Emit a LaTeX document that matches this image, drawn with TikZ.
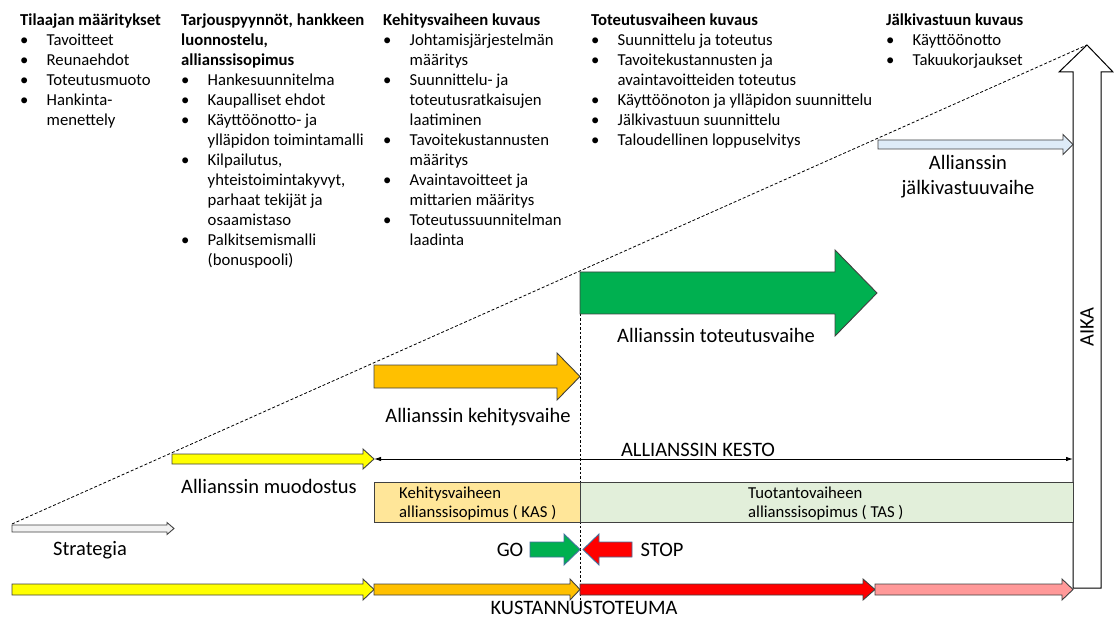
\documentclass[tikz,border=0pt]{standalone}
\usepackage{fontspec}
\setmainfont{Carlito}
\usetikzlibrary{arrows.meta}
\definecolor{cyellow}{HTML}{FFFF00}
\definecolor{corange}{HTML}{FFC000}
\definecolor{cgreen}{HTML}{00B050}
\definecolor{cred}{HTML}{FF0000}
\definecolor{cpink}{HTML}{FF9999}
\definecolor{cblue}{HTML}{DEEBF7}
\definecolor{cgray}{HTML}{F2F2F2}
\definecolor{ckas}{HTML}{FFE699}
\definecolor{ctas}{HTML}{E2EFDA}
\definecolor{cline}{HTML}{404040}
\definecolor{coutl}{HTML}{41719C}
\newcommand\blkarrow[7]{\draw[line width=0.9pt,#7] (#1,{#3-#4}) -- ({#2-(#6)},{#3-#4}) -- ({#2-(#6)},{#3-#5}) -- (#2,#3) -- ({#2-(#6)},{#3+#5}) -- ({#2-(#6)},{#3+#4}) -- (#1,{#3+#4}) -- cycle;}
\newcommand\bul{\makebox[26.5pt][l]{\textbullet}}
\tikzset{
  col/.style={anchor=north west, inner sep=0pt, font=\fontsize{16.7}{20}\selectfont},
  lab/.style={anchor=base, inner sep=0pt, font=\fontsize{20.5}{25}\selectfont},
  boxtxt/.style={anchor=north west, inner sep=0pt, font=\fontsize{16.7}{19.5}\selectfont},
  cbox/.style={draw=cline, line width=0.9pt, anchor=north west, inner sep=0pt, minimum height=40pt},
}
\begin{document}
\begin{tikzpicture}[x=1pt,y=-1pt]
\useasboundingbox (0,0) rectangle (1114,620);
% text columns
\node[col] (c1) at (20,11) {\begin{tabular}{@{}l@{}l@{}}
\multicolumn{2}{@{}l@{}}{\bfseries Tilaajan määritykset}\\
\bul & Tavoitteet\\ \bul & Reunaehdot\\ \bul & Toteutusmuoto\\ \bul & Hankinta-\\ & menettely
\end{tabular}};
\node[col] (c2) at (181,11) {\begin{tabular}{@{}l@{}l@{}}
\multicolumn{2}{@{}l@{}}{\bfseries Tarjouspyynnöt, hankkeen}\\
\multicolumn{2}{@{}l@{}}{\bfseries luonnostelu,}\\
\multicolumn{2}{@{}l@{}}{\bfseries allianssisopimus}\\
\bul & Hankesuunnitelma\\ \bul & Kaupalliset ehdot\\ \bul & Käyttöönotto- ja\\ & ylläpidon toimintamalli\\
\bul & Kilpailutus,\\ & yhteistoimintakyvyt,\\ & parhaat tekijät ja\\ & osaamistaso\\
\bul & Palkitsemismalli\\ & (bonuspooli)
\end{tabular}};
\node[col] (c3) at (383,11) {\begin{tabular}{@{}l@{}l@{}}
\multicolumn{2}{@{}l@{}}{\bfseries Kehitysvaiheen kuvaus}\\
\bul & Johtamisjärjestelmän\\ & määritys\\ \bul & Suunnittelu- ja\\ & toteutusratkaisujen\\ & laatiminen\\
\bul & Tavoitekustannusten\\ & määritys\\ \bul & Avaintavoitteet ja\\ & mittarien määritys\\
\bul & Toteutussuunnitelman\\ & laadinta
\end{tabular}};
\node[col] (c4) at (591,11) {\begin{tabular}{@{}l@{}l@{}}
\multicolumn{2}{@{}l@{}}{\bfseries Toteutusvaiheen kuvaus}\\
\bul & Suunnittelu ja toteutus\\ \bul & Tavoitekustannusten ja\\ & avaintavoitteiden toteutus\\
\bul & Käyttöönoton ja ylläpidon suunnittelu\\ \bul & Jälkivastuun suunnittelu\\ \bul & Taloudellinen loppuselvitys
\end{tabular}};
\node[col] (c5) at (886,11) {\begin{tabular}{@{}l@{}l@{}}
\multicolumn{2}{@{}l@{}}{\bfseries Jälkivastuun kuvaus}\\
\bul & Käyttöönotto\\ \bul & Takuukorjaukset
\end{tabular}};
% dashed guide lines
\coordinate (d0) at (12,524);
\coordinate (d1) at (1087,45);
\draw[dash pattern=on 3pt off 2pt, line width=0.8pt] (d0) -- (d1);
\coordinate (v0) at (580,314);
\coordinate (v1) at (580,602);
\draw[dash pattern=on 2.5pt off 2pt, line width=0.8pt] (v0) -- (v1);
% AIKA arrow
\draw[line width=1pt, fill=white] (1073,588) -- (1073,72) -- (1059,72) -- (1087,45) -- (1113,72) -- (1101,72) -- (1101,588) -- cycle;
\node[lab, anchor=center, rotate=90] (aika) at (1087,327) {AIKA};
% phase arrows
\blkarrow{12}{174}{528.5}{3.5}{6}{7}{fill=cgray, draw=cline}
\blkarrow{172}{374}{459}{5}{10}{11}{fill=cyellow, draw=cline}
\blkarrow{374}{580}{376.5}{11.5}{23.5}{23}{fill=corange, draw=cline}
\blkarrow{580}{877}{293}{21}{43}{42}{fill=cgreen, draw=cline}
\blkarrow{878}{1073}{144.5}{4.5}{10}{10}{fill=cblue, draw=cline}
% labels
\node[lab] (lstr) at (90,555.5) {Strategia};
\node[lab] (lmuo) at (269,493.5) {Allianssin muodostus};
\node[lab] (lkeh) at (478,422.5) {Allianssin kehitysvaihe};
\node[lab] (ltot) at (716,342.5) {Allianssin toteutusvaihe};
\node[lab, anchor=center, align=center] (ljal) at (968,177) {Allianssin\\jälkivastuuvaihe};
% KESTO
\coordinate (k1) at (374,459);
\coordinate (k2) at (1073,459);
\draw[line width=0.9pt, {Latex[length=7pt,width=4.5pt]}-{Latex[length=7pt,width=4.5pt]}] (k1) -- (k2);
\node[lab] (lkesto) at (698,456.5) {ALLIANSSIN KESTO};
% contract boxes
\node[cbox, fill=ckas, minimum width=206pt] (kas) at (374,482) {};
\node[cbox, fill=ctas, minimum width=493pt] (tas) at (580,482) {};
\node[boxtxt] (tkas) at (399,484.3) {\begin{tabular}{@{}l@{}}Kehitysvaiheen\\allianssisopimus ( KAS )\end{tabular}};
\node[boxtxt] (ttas) at (748,484.3) {\begin{tabular}{@{}l@{}}Tuotantovaiheen\\allianssisopimus ( TAS )\end{tabular}};
% GO / STOP
\blkarrow{530}{580}{549.5}{7.5}{15.5}{16}{fill=cgreen, draw=coutl}
\blkarrow{632}{583}{549.5}{7.5}{15.5}{-16}{fill=cred, draw=coutl}
\node[lab] (lgo) at (510,556.5) {GO};
\node[lab] (lstop) at (662,556.5) {STOP};
% cost bar
\blkarrow{12}{374}{589.5}{5.5}{10.5}{11}{fill=cyellow, draw=cline}
\blkarrow{374}{580}{589.5}{5.5}{10.5}{10}{fill=corange, draw=cline}
\blkarrow{580}{875}{589.5}{5.5}{10.5}{12}{fill=cred, draw=cline}
\blkarrow{875}{1073}{589.5}{5.5}{10.5}{11}{fill=cpink, draw=cline}
\node[lab] (lkust) at (584,614.5) {KUSTANNUSTOTEUMA};
\end{tikzpicture}
\end{document}
